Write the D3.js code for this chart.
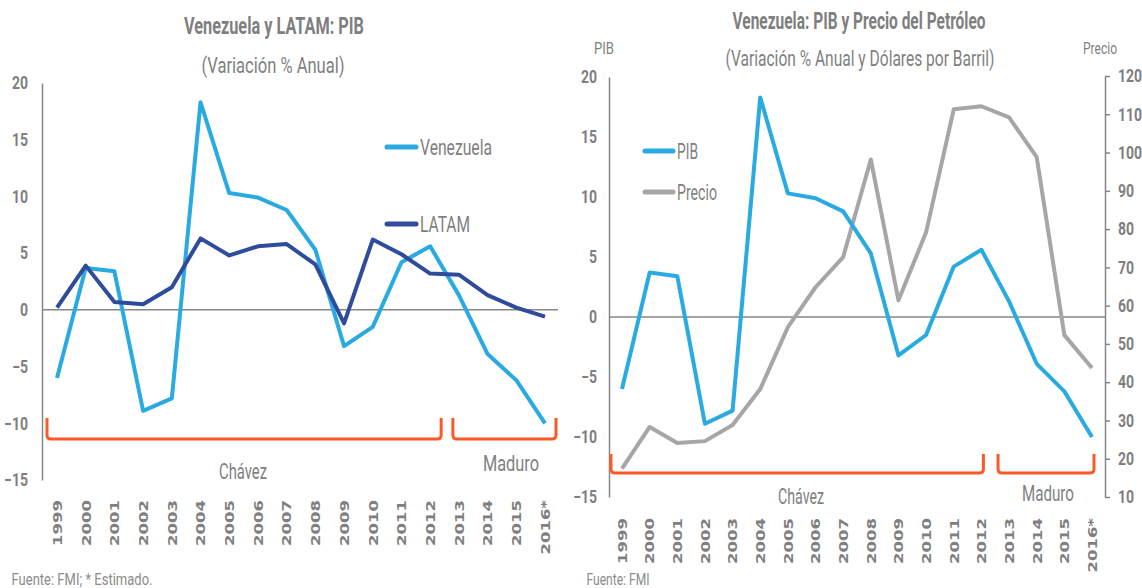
<!DOCTYPE html>
<html>
<head>
<meta charset="utf-8">
<script src="https://cdn.jsdelivr.net/npm/d3@7"></script>
<style>
  body { margin: 0; background: #ffffff; }
  svg { display: block; }
</style>
</head>
<body>
<script>
// data
const years = ["1999", "2000", "2001", "2002", "2003", "2004", "2005", "2006", "2007",
  "2008", "2009", "2010", "2011", "2012", "2013", "2014", "2015", "2016*"];
const venezuela = [-6.0, 3.7, 3.4, -8.9, -7.8, 18.3, 10.3, 9.9, 8.8, 5.3, -3.2, -1.5, 4.2, 5.6, 1.3, -3.9, -6.2, -10.0];
const latam = [0.2, 3.9, 0.7, 0.5, 2.0, 6.3, 4.8, 5.6, 5.8, 4.0, -1.2, 6.2, 4.9, 3.2, 3.1, 1.3, 0.2, -0.6];
const precio = [17.4, 28.3, 24.1, 24.6, 28.8, 38.2, 54.4, 64.8, 72.7, 98.2, 61.4, 79.2, 111.3, 112.1, 109.2, 98.8, 52.3, 43.7];
const pibTicks = [-15, -10, -5, 0, 5, 10, 15, 20];
const precioTicks = [10, 20, 30, 40, 50, 60, 70, 80, 90, 100, 110, 120];
const periods = [
  { name: "Chávez", from: "1999", to: "2012" },
  { name: "Maduro", from: "2013", to: "2016*" }
];

const GRAY = "#7f7f7f";
const AXIS = "#868686";
const BLUE = "#29abe2";
const NAVY = "#2f4b9b";
const OIL = "#a6a6a6";
const RED = "#fb5a27";
const FONT = "'Roboto', 'Liberation Sans', sans-serif";
const SQ = 0.78; // the source picture is squeezed sideways

const svg = d3.select("body").append("svg")
  .attr("width", 1142)
  .attr("height", 588);

// text squeezed to a measured width
function txt(x, y, s, size, weight, width, color) {
  return svg.append("text")
    .attr("x", x - width / 2)
    .attr("y", y)
    .attr("font-family", FONT)
    .attr("font-size", size)
    .attr("font-weight", weight)
    .attr("fill", color || GRAY)
    .attr("textLength", width)
    .attr("lengthAdjust", "spacingAndGlyphs")
    .text(s);
}

function yearAxis(x, top) {
  const g = svg.append("g")
    .attr("transform", `translate(0,${top})`)
    .call(d3.axisBottom(x).tickSize(0));
  g.select(".domain").remove();
  g.selectAll("text")
    .attr("x", 0).attr("y", 0).attr("dy", "0.35em")
    .attr("transform", "scale(0.75,1) rotate(-90)")
    .attr("text-anchor", "end")
    .attr("font-family", "'DejaVu Sans', Verdana, sans-serif")
    .attr("font-weight", "bold")
    .attr("font-size", 16.5)
    .attr("fill", GRAY);
}

function styleAxis(g) {
  g.attr("font-family", FONT).attr("font-size", 18).attr("font-weight", "bold");
  g.select(".domain").attr("stroke", AXIS).attr("stroke-width", 1.5);
  g.selectAll(".tick line").attr("stroke", AXIS).attr("stroke-width", 1.5);
  g.selectAll("text")
    .attr("fill", GRAY)
    .attr("x", function () { return +d3.select(this).attr("x") / SQ; })
    .attr("transform", `scale(${SQ},1)`);
}

function line(x, y, values, color) {
  svg.append("path")
    .datum(values)
    .attr("fill", "none")
    .attr("stroke", color)
    .attr("stroke-width", 4)
    .attr("stroke-linejoin", "round")
    .attr("d", d3.line().x((d, i) => x(years[i])).y(d => y(d)));
}

function legendItem(x0, x1, y, s, width, color) {
  svg.append("line")
    .attr("x1", x0).attr("x2", x1).attr("y1", y).attr("y2", y)
    .attr("stroke", color).attr("stroke-width", 5).attr("stroke-linecap", "round");
  txt(x1 + 4 + width / 2, y + 8, s, 22, "normal", width);
}

function brackets(x, top, bottom, off, labels) {
  periods.forEach((p, i) => {
    const a = x(p.from) + off[i][0], b = x(p.to) + off[i][1];
    svg.append("path")
      .attr("d", `M${a},${top} V${bottom - 4} Q${a},${bottom} ${a + 4},${bottom} H${b - 4} Q${b},${bottom} ${b},${bottom - 4} V${top}`)
      .attr("fill", "none")
      .attr("stroke", RED)
      .attr("stroke-width", 3);
    txt(labels[i][0], labels[i][1], p.name, 22, "normal", labels[i][2]);
  });
}

// ---------- left chart: Venezuela y LATAM ----------
const x1 = d3.scalePoint().domain(years).range([57, 545]);
const y1 = d3.scaleLinear().domain([-15, 20]).range([480, 83]);

txt(274, 34, "Venezuela y LATAM: PIB", 23, "bold", 180);
txt(273, 73, "(Variación % Anual)", 22, "normal", 143);

svg.append("line")
  .attr("x1", 42).attr("x2", 558).attr("y1", y1(0)).attr("y2", y1(0))
  .attr("stroke", AXIS).attr("stroke-width", 1.5);

svg.append("g")
  .attr("transform", "translate(42,0)")
  .call(d3.axisLeft(y1).tickValues(pibTicks).tickSize(0).tickSizeOuter(0).tickPadding(14))
  .call(styleAxis);

line(x1, y1, venezuela, BLUE);
line(x1, y1, latam, NAVY);

legendItem(387, 416, 147, "Venezuela", 72, BLUE);
legendItem(387, 416, 224, "LATAM", 50, NAVY);

brackets(x1, 418, 439, [[-10, 11], [-6, 11]], [[243, 479, 48], [511, 471, 56]]);
yearAxis(x1, 500);

txt(82, 585, "Fuente: FMI; * Estimado.", 17, "normal", 141, "#8c8c8c");

// ---------- right chart: PIB y Precio del Petróleo ----------
const x2 = d3.scalePoint().domain(years).range([622, 1092]);
const y2 = d3.scaleLinear().domain([-15, 20]).range([497, 77]);
const y3 = d3.scaleLinear().domain([10, 120]).range([497, 76]);

txt(859, 29, "Venezuela: PIB y Precio del Petróleo", 23, "bold", 253);
txt(860, 66, "(Variación % Anual y Dólares por Barril)", 22, "normal", 269);
txt(604, 54, "PIB", 17, "normal", 20);
txt(1100, 54, "Precio", 16, "normal", 34);

svg.append("line")
  .attr("x1", 609).attr("x2", 1105).attr("y1", y2(0)).attr("y2", y2(0))
  .attr("stroke", AXIS).attr("stroke-width", 1.5);

svg.append("g")
  .attr("transform", "translate(609,0)")
  .call(d3.axisLeft(y2).tickValues(pibTicks).tickSize(0).tickSizeOuter(0).tickPadding(12))
  .call(styleAxis);

svg.append("g")
  .attr("transform", "translate(1105,0)")
  .call(d3.axisRight(y3).tickValues(precioTicks).tickSize(5).tickSizeOuter(0).tickPadding(8))
  .call(styleAxis);

line(x2, y3, precio, OIL);
line(x2, y2, venezuela, BLUE);

legendItem(645, 673, 151, "PIB", 21, BLUE);
legendItem(645, 673, 192, "Precio", 40, OIL);

brackets(x2, 454, 473, [[-11, 2], [-11, 2]], [[801, 504, 46], [1048, 501, 52]]);
yearAxis(x2, 518);

txt(618, 585, "Fuente: FMI", 17, "normal", 63, "#8c8c8c");
</script>
</body>
</html>
